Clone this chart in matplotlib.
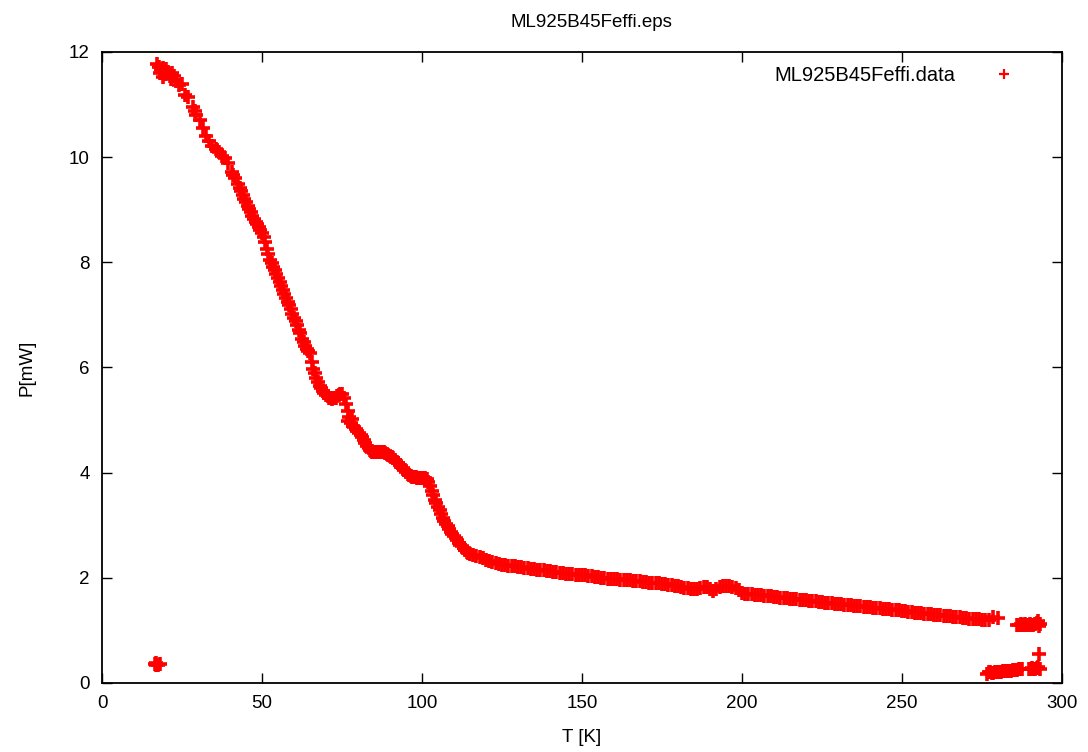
import matplotlib
matplotlib.use("Agg")
import matplotlib.pyplot as plt

plt.rcParams['font.family'] = ['Liberation Sans', 'DejaVu Sans']

title = "ML925B45Feffi.eps"
series_name = "ML925B45Feffi.data"

# steep part of the curve (17 K .. 115 K)
T_low = [
    17.2, 17.8, 18.5, 19.2, 19.8, 20.5, 21.2, 22.0, 23.0, 24.0,
    25.0, 26.0, 27.0, 28.5, 29.5, 30.5, 31.5, 32.5, 33.5, 34.5,
    35.5, 36.5, 37.5, 38.5, 39.5, 40.5, 41.5, 42.5, 43.5, 44.5,
    18.0, 19.0, 20.0, 21.5, 22.5, 29.0, 36.0, 41.0, 43.0, 44.0,
    45.0, 45.5, 46.0, 46.5, 47.0, 47.5, 48.0, 48.5, 49.0, 49.5,
    50.0, 50.5, 51.0, 51.5, 52.0, 52.5, 53.0, 53.5, 54.0, 54.5,
    55.0, 55.5, 56.0, 56.5, 57.0, 57.5, 58.0, 58.5, 59.0, 59.5,
    60.0, 60.5, 61.0, 61.5, 62.0, 62.5, 63.0, 63.5, 64.0, 64.5,
    65.0, 65.5, 66.0, 66.5, 67.0, 67.5, 68.0, 68.5, 69.0, 69.5,
    70.0, 70.5, 71.0, 71.5, 72.0, 72.5, 73.0, 73.5, 74.0, 74.5,
    75.0, 75.7, 76.2, 76.7, 77.2, 77.7, 78.3, 78.8, 79.3, 79.8,
    80.3, 80.8, 81.3, 81.8, 82.3, 82.8, 83.3, 83.8, 77.0, 78.0,
    84.0, 84.5, 85.0, 85.5, 86.0, 86.5, 87.0, 87.5, 88.0, 88.5,
    89.0, 89.5, 90.0, 90.5, 91.0, 91.5, 92.0, 92.5, 93.0, 93.5,
    94.0, 94.5, 95.0, 95.5, 96.0, 96.5, 97.0, 97.5, 98.0, 98.5,
    99.0, 99.5, 100.0, 100.5, 101.0, 101.5,
    102.0, 102.5, 103.0, 103.5, 104.0, 104.5, 105.0, 105.5, 106.0, 106.5,
    107.0, 107.5, 108.0, 108.5, 109.0, 109.5, 110.0, 110.5, 111.0, 111.5,
    112.0, 112.5, 113.0, 113.5, 114.0, 114.5,
]
P_low = [
    11.78, 11.72, 11.65, 11.70, 11.58, 11.62, 11.55, 11.60, 11.45, 11.38,
    11.40, 11.18, 11.15, 10.95, 10.80, 10.70, 10.55, 10.40, 10.30, 10.22,
    10.15, 10.10, 10.02, 9.98, 9.88, 9.72, 9.60, 9.48, 9.35, 9.20,
    11.60, 11.52, 11.68, 11.48, 11.55, 10.88, 10.13, 9.66, 9.42, 9.28,
    9.14, 9.08, 9.01, 8.95, 8.88, 8.82, 8.77, 8.72, 8.67, 8.62,
    8.55, 8.48, 8.38, 8.25, 8.15, 8.05, 7.98, 7.92, 7.85, 7.78,
    7.70, 7.62, 7.55, 7.47, 7.40, 7.32, 7.25, 7.18, 7.12, 7.02,
    6.95, 6.88, 6.80, 6.72, 6.65, 6.55, 6.48, 6.40, 6.35, 6.32,
    6.28, 6.10, 5.98, 5.90, 5.80, 5.72, 5.65, 5.60, 5.55, 5.52,
    5.48, 5.45, 5.42, 5.41, 5.40, 5.41, 5.42, 5.45, 5.48, 5.50,
    5.50, 5.42, 5.30, 5.18, 5.05, 4.95, 4.88, 4.86, 4.83, 4.80,
    4.76, 4.72, 4.67, 4.62, 4.56, 4.51, 4.47, 4.43, 4.98, 5.02,
    4.42, 4.40, 4.39, 4.39, 4.39, 4.40, 4.40, 4.40, 4.39, 4.38,
    4.36, 4.34, 4.32, 4.30, 4.27, 4.24, 4.21, 4.18, 4.15, 4.12,
    4.08, 4.05, 4.01, 3.98, 3.96, 3.94, 3.92, 3.91, 3.91, 3.90,
    3.90, 3.90, 3.90, 3.90, 3.89, 3.87,
    3.82, 3.75, 3.66, 3.57, 3.48, 3.42, 3.35, 3.28, 3.21, 3.14,
    3.08, 3.03, 2.98, 2.93, 2.88, 2.84, 2.80, 2.76, 2.71, 2.67,
    2.63, 2.60, 2.56, 2.53, 2.50, 2.47,
]

# flat part of the curve (115 K .. 280 K)
T_high = [
    115, 116, 117, 118, 119, 120, 121, 122, 123, 124,
    125, 126, 127, 128, 129, 130, 131, 132, 133, 134,
    135, 136, 137, 138, 139, 140, 141, 142, 143, 144,
    145, 146, 147, 148, 149, 150, 151, 152, 153, 154,
    155, 156, 157, 158, 159, 160, 161, 162, 163, 164,
    165, 166, 167, 168, 169, 170, 171, 172, 173, 174,
    175, 176, 177, 178, 179, 180, 181, 182, 183, 184,
    185, 186, 187, 188, 189, 190, 191, 192, 193, 194,
    195, 196, 197, 198, 199, 200, 201, 202, 203, 204,
    205, 206, 207, 208, 209, 210, 211, 212, 213, 214,
    215, 216, 217, 218, 219, 220, 221, 222, 223, 224,
    225, 226, 227, 228, 229, 230, 231, 232, 233, 234,
    235, 236, 237, 238, 239, 240, 241, 242, 243, 244,
    245, 246, 247, 248, 249, 250, 251, 252, 253, 254,
    255, 256, 257, 258, 259, 260, 261, 262, 263, 264,
    265, 266, 267, 268, 269, 270, 271, 272, 273, 274,
    275, 276, 277, 278.5, 280,
]
P_high = [
    2.45, 2.43, 2.41, 2.39, 2.37, 2.34, 2.32, 2.30, 2.28, 2.26,
    2.25, 2.24, 2.23, 2.22, 2.215, 2.21, 2.20, 2.19, 2.18, 2.17,
    2.16, 2.15, 2.145, 2.14, 2.13, 2.12, 2.115, 2.11, 2.10, 2.09,
    2.08, 2.07, 2.065, 2.06, 2.055, 2.05, 2.045, 2.04, 2.03, 2.02,
    2.01, 2.00, 1.99, 1.985, 1.98, 1.975, 1.97, 1.965, 1.96, 1.955,
    1.95, 1.94, 1.935, 1.93, 1.925, 1.92, 1.91, 1.905, 1.90, 1.895,
    1.89, 1.88, 1.87, 1.86, 1.85, 1.84, 1.83, 1.815, 1.80, 1.79,
    1.78, 1.78, 1.81, 1.83, 1.83, 1.78, 1.74, 1.78, 1.83, 1.85,
    1.85, 1.84, 1.83, 1.80, 1.76, 1.72, 1.70, 1.69, 1.685, 1.68,
    1.67, 1.665, 1.66, 1.65, 1.645, 1.64, 1.63, 1.625, 1.62, 1.61,
    1.605, 1.60, 1.59, 1.585, 1.58, 1.57, 1.565, 1.56, 1.55, 1.545,
    1.54, 1.53, 1.525, 1.52, 1.51, 1.505, 1.50, 1.49, 1.485, 1.48,
    1.47, 1.465, 1.46, 1.45, 1.445, 1.44, 1.43, 1.425, 1.42, 1.41,
    1.405, 1.40, 1.39, 1.385, 1.38, 1.37, 1.36, 1.355, 1.35, 1.34,
    1.335, 1.33, 1.32, 1.315, 1.31, 1.30, 1.295, 1.29, 1.28, 1.275,
    1.27, 1.26, 1.255, 1.245, 1.24, 1.23, 1.225, 1.22, 1.215, 1.21,
    1.205, 1.20, 1.19, 1.25, 1.24,
]

# stray clusters (start point at 17 K and the warm end)
T_extra = [16.5, 17.0, 17.5, 18.0, 16.8,
           286, 286.5, 287, 287.5, 288, 288.5, 289, 289.5, 290, 290.5,
           291, 291.5, 292, 292.5, 293, 292.8,
           276.5, 277.0, 277.5, 278.0, 278.5, 279.0, 279.5, 280.0, 280.5, 281.0,
           281.5, 282.0, 282.5, 283.0, 283.5, 284.0, 284.5, 285.0, 285.5, 286.0,
           286.5, 287.0, 287.5,
           289.5, 290.0, 290.5, 291.0, 291.5, 292.0, 292.5, 293.0, 292.8]
P_extra = [0.36, 0.38, 0.35, 0.37, 0.34,
           1.10, 1.11, 1.12, 1.10, 1.10, 1.12, 1.11, 1.10, 1.12, 1.11,
           1.10, 1.12, 1.14, 1.18, 1.12, 1.08,
           0.18, 0.20, 0.20, 0.19, 0.19, 0.21, 0.21, 0.20, 0.20, 0.21,
           0.22, 0.22, 0.22, 0.23, 0.23, 0.23, 0.24, 0.24, 0.25, 0.25,
           0.26, 0.26, 0.27,
           0.26, 0.27, 0.28, 0.27, 0.27, 0.28, 0.30, 0.26, 0.55]

T_all = T_low + T_high + T_extra
P_all = P_low + P_high + P_extra

fig = plt.figure(figsize=(10.88, 7.52), dpi=100)
ax = fig.add_axes([0.0938, 0.0918, 0.8824, 0.8391])

ax.plot(T_all, P_all, '+', color='#ff0000', markersize=9.5, mew=2.6,
        linestyle='none', label=series_name)

ax.set_xlim(0, 300)
ax.set_ylim(0, 12)
ax.set_xticks([0, 50, 100, 150, 200, 250, 300])
ax.set_yticks([0, 2, 4, 6, 8, 10, 12])
ax.tick_params(direction='in', length=7, width=1, top=True, right=True,
               pad=9, labelsize=13.5)
for s in ax.spines.values():
    s.set_linewidth(1.3)

ax.set_title(title, fontsize=13.5, pad=18, x=0.51)
ax.set_xlabel("T [K]", fontsize=13.5, labelpad=12)
ax.set_ylabel("P[mW]", fontsize=13.5, labelpad=24)

leg = ax.legend(loc='upper right', bbox_to_anchor=(0.9604, 0.978),
                frameon=False, markerfirst=False, borderpad=0,
                borderaxespad=0, handlelength=2, handletextpad=1.4,
                fontsize=14.5)
for h in leg.legend_handles:
    h.set_markersize(7)
    h.set_markeredgewidth(1.6)

fig.savefig("out.png", dpi=100)
